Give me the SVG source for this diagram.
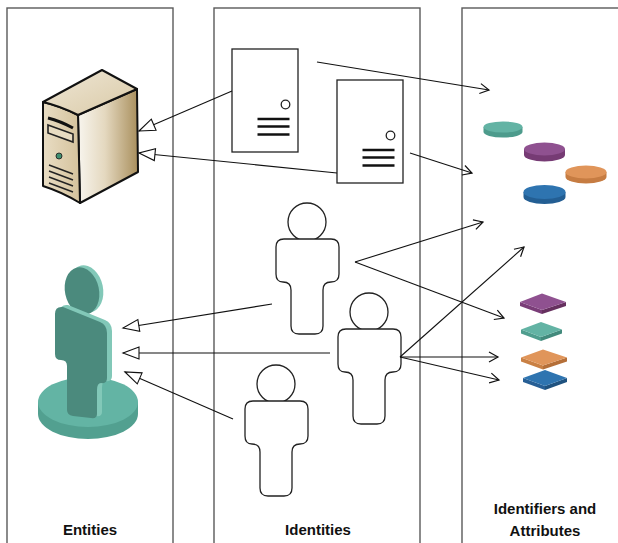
<svg xmlns="http://www.w3.org/2000/svg" xmlns:xlink="http://www.w3.org/1999/xlink" width="618" height="543" viewBox="0 0 618 543">
  <style>
    .panel { fill: none; stroke: #5a5a5a; stroke-width: 1.4; }
    .label { font-family: "Liberation Sans", Arial, sans-serif; font-weight: bold; font-size: 15px; fill: #111; text-anchor: middle; }
    .conn line { stroke: #111; stroke-width: 1.1; fill: none; }
    .outline { fill: #fff; stroke: #222; stroke-width: 1.3; }
    .bar { stroke: #111; stroke-width: 2.7; }
    .srv { stroke: #111; stroke-width: 2; stroke-linejoin: round; }
  </style>
  <defs>
    <marker id="open" markerUnits="userSpaceOnUse" markerWidth="14" markerHeight="14" viewBox="-12 -7 14 14" refX="0" refY="0" orient="auto">
      <path d="M-9,-5 L0,0 L-9,5" fill="none" stroke="#111" stroke-width="1.2"/>
    </marker>
    <marker id="hollow" markerUnits="userSpaceOnUse" markerWidth="20" markerHeight="16" viewBox="-18 -8 20 16" refX="0" refY="0" orient="auto">
      <path d="M0,0 L-16,-6 L-16,6 Z" fill="#fff" stroke="#111" stroke-width="1.1"/>
    </marker>
    <linearGradient id="srvSide" x1="0" y1="0" x2="1" y2="0">
      <stop offset="0" stop-color="#f8f5ee"/>
      <stop offset="0.45" stop-color="#e4d8bf"/>
      <stop offset="1" stop-color="#a98f5d"/>
    </linearGradient>
    <linearGradient id="srvFront" x1="0" y1="0" x2="1" y2="0">
      <stop offset="0" stop-color="#e9ddc4"/>
      <stop offset="1" stop-color="#d4c29c"/>
    </linearGradient>
    <linearGradient id="srvTop" x1="0" y1="0" x2="1" y2="1">
      <stop offset="0" stop-color="#efe7d6"/>
      <stop offset="1" stop-color="#d9c9a6"/>
    </linearGradient>
    <!-- outlined identity figure, origin at head centre -->
    <g id="person">
      <circle cx="0" cy="0" r="19" class="outline"/>
      <path class="outline" d="M-23,17 H24 Q32,17 32,25 V52 Q32,60 24,60 Q16,60 16,68 V104 Q16,112 8,112 H-8 Q-16,112 -16,104 V68 Q-16,60 -24,60 Q-31,60 -31,52 V25 Q-31,17 -23,17 Z"/>
    </g>
    <!-- outlined machine identity, origin at top-left -->
    <g id="box">
      <rect x="0" y="0" width="66" height="103" fill="#fff" stroke="#222" stroke-width="1.3"/>
      <circle cx="53.5" cy="55.5" r="4.3" fill="#fff" stroke="#222" stroke-width="1.3"/>
      <line class="bar" x1="25.5" y1="70" x2="57.5" y2="70"/>
      <line class="bar" x1="25.5" y1="77.5" x2="57.5" y2="77.5"/>
      <line class="bar" x1="25.5" y1="85.5" x2="57.5" y2="85.5"/>
    </g>
  </defs>

  <rect width="618" height="543" fill="#fff"/>

  <!-- column frames -->
  <g id="panels">
    <rect class="panel" x="7" y="8" width="166" height="545"/>
    <rect class="panel" x="214" y="8" width="206" height="545"/>
    <rect class="panel" x="462" y="8" width="200" height="545"/>
  </g>

  <g id="labels">
    <text class="label" x="90" y="535">Entities</text>
    <text class="label" x="318" y="535">Identities</text>
    <text class="label" x="545" y="514">Identifiers and</text>
    <text class="label" x="545" y="536">Attributes</text>
  </g>

  <!-- entity: server tower -->
  <g id="entity-server">
    <path class="srv" fill="url(#srvSide)" d="M78,115 L137,89 L138,172 L80,203 Z"/>
    <path class="srv" fill="url(#srvFront)" d="M43,102 Q60,106 78,115 L80,203 Q62,192 43,186 Z"/>
    <path class="srv" fill="url(#srvTop)" d="M43,102 L102,70 L137,89 L78,115 Q60,106 43,102 Z"/>
    <path d="M48,118 Q60,121 73,128" stroke="#111" stroke-width="3" fill="none"/>
    <path d="M48,125 L73,134 L73,142 L48,133 Z" fill="#e8dcc2" stroke="#222" stroke-width="1.6"/>
    <circle cx="59" cy="156" r="3" fill="#3f8f70" stroke="#222" stroke-width="0.9"/>
    <g stroke="#222" stroke-width="1.5">
      <line x1="49" y1="165" x2="73" y2="174"/>
      <line x1="49" y1="171" x2="73" y2="180"/>
      <line x1="49" y1="177" x2="73" y2="186"/>
      <line x1="49" y1="183" x2="73" y2="192"/>
    </g>
  </g>

  <!-- entity: person on a base -->
  <g id="entity-person">
    <ellipse cx="88" cy="414" rx="50" ry="25" fill="#52a090"/>
    <rect x="38" y="402" width="100" height="12" fill="#52a090"/>
    <ellipse cx="88" cy="402" rx="50" ry="25" fill="#63b4a4"/>
    <ellipse cx="86" cy="289" rx="17" ry="24" transform="rotate(-12 86 289)" fill="#82c8b8"/>
    <ellipse cx="82" cy="291" rx="17" ry="24" transform="rotate(-12 82 291)" fill="#4b8a7d"/>
    <path fill="#82c8b8" transform="translate(5,-2)" d="M55,314 Q55,306 63,307 L100,322 Q107,325 107,333 L107,378 Q107,384 101,383 Q97,383 97,390 L97,414 Q97,419 91,418 L73,416 Q67,415 67,410 L67,366 Q67,360 61,360 Q55,360 55,354 Z"/>
    <path fill="#4b8a7d" d="M55,314 Q55,306 63,307 L100,322 Q107,325 107,333 L107,378 Q107,384 101,383 Q97,383 97,390 L97,414 Q97,419 91,418 L73,416 Q67,415 67,410 L67,366 Q67,360 61,360 Q55,360 55,354 Z"/>
  </g>

  <!-- identities -->
  <g id="identity-box-1"><use xlink:href="#box" href="#box" x="232" y="49"/></g>
  <g id="identity-box-2"><use xlink:href="#box" href="#box" x="337" y="80"/></g>
  <g id="identity-person-1"><use xlink:href="#person" href="#person" x="307" y="222"/></g>
  <g id="identity-person-2"><use xlink:href="#person" href="#person" x="369" y="312"/></g>
  <g id="identity-person-3"><use xlink:href="#person" href="#person" x="276" y="384"/></g>

  <!-- identifiers: discs -->
  <g id="identifier-discs">
    <g>
      <path d="M483.5,127 V132 A19.5,5.5 0 0 0 522.5,132 V127 Z" fill="#4d9b8c"/>
      <ellipse cx="503" cy="127" rx="19.5" ry="5.5" fill="#63b3a4"/>
    </g>
    <g>
      <path d="M524,149 V155 A20.5,6.5 0 0 0 565,155 V149 Z" fill="#763b74"/>
      <ellipse cx="544.5" cy="149" rx="20.5" ry="6.5" fill="#8f5190"/>
    </g>
    <g>
      <path d="M565.5,172 V177 A20.5,6.5 0 0 0 606.5,177 V172 Z" fill="#c67c42"/>
      <ellipse cx="586" cy="172" rx="20.5" ry="6.5" fill="#e0955a"/>
    </g>
    <g>
      <path d="M523.5,192 V197 A21,7 0 0 0 565.5,197 V192 Z" fill="#235e93"/>
      <ellipse cx="544.5" cy="192" rx="21" ry="7" fill="#2e74b0"/>
    </g>
  </g>

  <!-- attributes: tiles -->
  <g id="attribute-tiles">
    <g>
      <polygon points="520,302 542,310 542,314 520,306" fill="#7a3d78"/>
      <polygon points="542,310 566,302 566,306 542,314" fill="#66305f"/>
      <polygon points="520,302 542,293.5 566,302 542,310" fill="#8f5190"/>
    </g>
    <g>
      <polygon points="521,329.5 541,337 541,341 521,333.5" fill="#4f9d8e"/>
      <polygon points="541,337 562,329.5 562,333.5 541,341" fill="#428a7c"/>
      <polygon points="521,329.5 541,322 562,329.5 541,337" fill="#63b3a4"/>
    </g>
    <g>
      <polygon points="521,357.5 543,365.5 543,369.5 521,361.5" fill="#c98044"/>
      <polygon points="543,365.5 567,357.5 567,361.5 543,369.5" fill="#b56f38"/>
      <polygon points="521,357.5 543,349.5 567,357.5 543,365.5" fill="#e0955a"/>
    </g>
    <g>
      <polygon points="523,378 545,386 545,390 523,382" fill="#275f95"/>
      <polygon points="545,386 567,378 567,382 545,390" fill="#1f527f"/>
      <polygon points="523,378 545,370 567,378 545,386" fill="#2e74b0"/>
    </g>
  </g>

  <!-- connectors -->
  <g id="connectors" class="conn">
    <line x1="317" y1="62" x2="489" y2="90" marker-end="url(#open)"/>
    <line x1="410" y1="153" x2="472" y2="173" marker-end="url(#open)"/>
    <line x1="232" y1="91" x2="139" y2="131" marker-end="url(#hollow)"/>
    <line x1="337" y1="173" x2="139" y2="153" marker-end="url(#hollow)"/>
    <line x1="355" y1="262" x2="483" y2="222" marker-end="url(#open)"/>
    <line x1="355" y1="262" x2="504" y2="318" marker-end="url(#open)"/>
    <line x1="400" y1="357" x2="524" y2="247" marker-end="url(#open)"/>
    <line x1="400" y1="357" x2="498" y2="357" marker-end="url(#open)"/>
    <line x1="400" y1="357" x2="499" y2="380" marker-end="url(#open)"/>
    <line x1="272" y1="304" x2="123" y2="328" marker-end="url(#hollow)"/>
    <line x1="330" y1="353" x2="123" y2="353" marker-end="url(#hollow)"/>
    <line x1="233" y1="419" x2="125" y2="372" marker-end="url(#hollow)"/>
  </g>
</svg>
